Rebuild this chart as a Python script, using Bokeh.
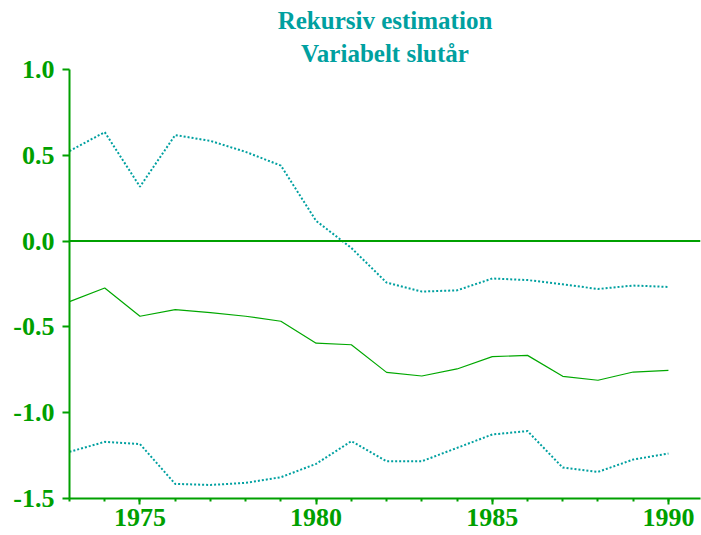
from bokeh.plotting import figure
from bokeh.models import Range1d, FixedTicker, Span, Title
from bokeh.embed import file_html
from bokeh.resources import INLINE

# ---- data ----
years = [1973, 1974, 1975, 1976, 1977, 1978, 1979, 1980, 1981,
         1982, 1983, 1984, 1985, 1986, 1987, 1988, 1989, 1990]
estimate = [-0.353, -0.273, -0.438, -0.399, -0.417, -0.438, -0.467, -0.595, -0.604,
            -0.765, -0.786, -0.745, -0.673, -0.666, -0.788, -0.811, -0.763, -0.753]
upper = [0.525, 0.635, 0.317, 0.618, 0.584, 0.520, 0.440, 0.118, -0.040,
         -0.242, -0.294, -0.287, -0.218, -0.227, -0.252, -0.279, -0.259, -0.267]
lower = [-1.228, -1.170, -1.183, -1.415, -1.421, -1.409, -1.376, -1.298, -1.166,
         -1.283, -1.283, -1.205, -1.127, -1.107, -1.320, -1.345, -1.273, -1.238]

x_major = [1975, 1980, 1985, 1990]
y_ticks = [1.0, 0.5, 0.0, -0.5, -1.0, -1.5]
y_tick_labels = ["1.0", "0.5", "0.0", "-0.5", "-1.0", "-1.5"]
title_lines = ["Rekursiv estimation", "Variabelt slutår"]

GREEN = "#00A000"
TEAL = "#00A0A0"
FONT = "'Liberation Serif', 'Times New Roman', 'DejaVu Serif', serif"

p = figure(width=701, height=535, output_backend="svg", toolbar_location=None,
           x_range=Range1d(1973, 1990.91), y_range=Range1d(-1.5, 1.0),
           min_border_left=69, min_border_right=1, min_border_top=69,
           min_border_bottom=37)
p.outline_line_color = None
p.grid.visible = False
p.background_fill_color = "white"
p.border_fill_color = "white"

# titles (first added sits nearest the plot)
t2 = Title(text=title_lines[1], align="center", text_font=FONT, text_font_size="25px",
           text_font_style="bold", text_color=TEAL, standoff=5)
t1 = Title(text=title_lines[0], align="center", text_font=FONT, text_font_size="25px",
           text_font_style="bold", text_color=TEAL, standoff=4)
p.add_layout(t2, "above")
p.add_layout(t1, "above")

# axes
xa = p.xaxis[0]
xa.ticker = FixedTicker(ticks=x_major, minor_ticks=years)
xa.axis_line_color = GREEN
xa.axis_line_width = 2
xa.major_tick_line_color = GREEN
xa.major_tick_line_width = 2
xa.major_tick_out = 6
xa.major_tick_in = 0
xa.minor_tick_line_color = GREEN
xa.minor_tick_line_width = 2
xa.minor_tick_out = 3
xa.minor_tick_in = 0
xa.major_label_text_font = FONT
xa.major_label_text_font_size = "26px"
xa.major_label_text_font_style = "bold"
xa.major_label_text_color = GREEN
xa.major_label_standoff = 4

ya = p.yaxis[0]
ya.ticker = FixedTicker(ticks=y_ticks, minor_ticks=[])
ya.major_label_overrides = {v: s for v, s in zip(y_ticks, y_tick_labels)}
ya.axis_line_color = GREEN
ya.axis_line_width = 2
ya.major_tick_line_color = GREEN
ya.major_tick_line_width = 2
ya.major_tick_out = 7
ya.major_tick_in = 0
ya.minor_tick_line_color = None
ya.major_label_text_font = FONT
ya.major_label_text_font_size = "26px"
ya.major_label_text_font_style = "bold"
ya.major_label_text_color = GREEN
ya.major_label_standoff = 8

# zero line
p.add_layout(Span(location=0, dimension="width", line_color=GREEN, line_width=2))

# series
p.line(years, estimate, line_color="#00A800", line_width=1.2)
p.line(years, upper, line_color=TEAL, line_width=2, line_dash="2 2")
p.line(years, lower, line_color=TEAL, line_width=2, line_dash="2 2")

open("out.html", "w").write(file_html(p, INLINE))
